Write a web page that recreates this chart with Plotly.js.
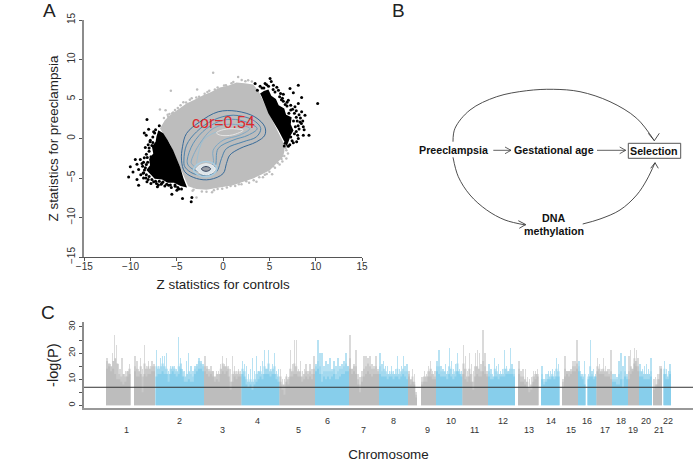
<!DOCTYPE html>
<html><head><meta charset="utf-8">
<script src="https://cdn.plot.ly/plotly-3.0.1.min.js"></script>
<style>html,body{margin:0;padding:0;background:#fff}#c{width:700px;height:467px}</style>
</head><body><div id="c"></div>
<script>
// ---------- Panel A: Z statistics ----------
const greyMassX=[-6.83,-6.3,-5.76,-5.1,-3.96,-3.1,-2.16,-1.3,-0.36,0.6,1.44,2.3,3.24,3.78,5.04,6.65,6.6,6.47,5.7,5.04,4.1,3.24,2.1,1.08,-0.4,-1.8,-2.9,-3.78,-4.68,-5.76];
const greyMassY=[1.27,2.3,2.95,3.5,4.43,4.9,5.49,5.9,6.46,6.7,7.1,7.0,6.85,6.12,2.95,-0.84,-1.7,-2.32,-3.2,-4.01,-4.6,-5.06,-5.5,-5.91,-6.2,-6.5,-6.4,-6.03,-3.59,-0.63];
const greyDotsX=[-1.08,-5.65,-2.81,-6.83,-6.22,-5.94,1.62,2.7,6.83,6.83,5.29,3.6,1.98,-1.8,-2.88,-3.3,-5.5,-5.2,-4.6,-4.3,-3.4,-2.6,-1.7,-0.9,0.1,0.9,2.0,3.1,3.5,6.9,7.0,6.4,6.1,5.6,4.7,4.3,2.8,1.3,0.4,-0.6,-1.2,-2.3,-3.2,-6.4,-5.8,-6.0,-5.4,-4.9,-4.0,-3.6,-2.9,-2.0,-1.5,-0.6,0.3,1.1,2.4,6.75,6.6,6.3,5.9,5.4,5.0,4.5,3.9,3.3,2.5,1.7,0.8,-0.1,-1.0];
const greyDotsY=[8.31,6.03,6.2,3.67,3.59,2.74,7.8,7.38,-1.48,-2.53,-4.51,-5.49,-5.78,-6.75,-7.47,-6.6,3.2,3.6,4.2,4.6,5.1,5.3,5.9,6.2,6.7,7.0,7.4,7.2,6.9,-0.9,-1.9,-2.9,-3.3,-3.7,-4.5,-4.9,-5.6,-6.0,-6.2,-6.4,-6.8,-6.7,-6.5,2.6,3.1,3.0,3.3,3.85,4.55,4.9,5.2,5.65,6.05,6.45,6.75,7.15,7.25,-1.2,-2.2,-2.6,-3.1,-3.5,-4.2,-4.6,-4.9,-5.3,-5.4,-5.8,-6.0,-6.35,-6.55];
const blackLeftX=[-7.0,-7.2,-7.3,-7.7,-7.55,-8.0,-7.9,-8.3,-7.8,-7.4,-6.6,-6.0,-5.3,-4.6,-3.9,-4.3,-4.64,-5.4,-6.0,-6.47];
const blackLeftY=[1.05,0.3,-0.4,-1.0,-1.9,-2.6,-3.4,-4.0,-4.6,-5.1,-5.2,-5.6,-5.6,-6.0,-6.2,-5.0,-3.63,-1.48,-0.2,0.67];
const blackRightX=[3.99,4.4,4.89,5.2,5.7,6.0,6.6,6.8,7.4,7.3,7.6,7.3,7.1,6.87,5.97,4.89,4.17];
const blackRightY=[5.7,6.0,6.2,5.4,5.0,4.2,3.8,3.0,2.7,1.8,1.0,0.4,-0.3,-0.97,1.06,3.16,5.27];
const blackDotsX=[-8.23,-8.05,-8.52,-8.31,-7.51,-7.87,-8.41,-9.49,-8.95,-8.52,-9.31,-8.77,-10.03,-9.13,-9.74,-10.21,-8.59,-9.31,-9.13,-8.23,-7.51,-6.61,-5.89,-5.18,-5.0,-5.54,-4.39,-3.38,-3.45,-8.1,-8.0,-8.3,-8.7,-8.5,-8.9,-8.6,-8.1,-7.8,-7.0,-6.3,-5.6,-7.6,-7.3,-7.7,-8.15,-7.1,-6.9,-4.8,-7.4,-7.6,-7.9,-8.0,-7.8,-8.2,-8.3,-8.6,-8.4,-8.65,-8.3,-8.0,-8.35,-7.7,-7.3,-6.9,-6.5,-6.1,-5.7,-5.2,-4.9,-4.5,-7.2,-6.7,3.45,5.07,4.53,5.43,3.99,5.97,6.5,7.22,8.12,7.58,8.48,7.04,8.12,7.76,8.48,8.84,8.3,8.66,9.27,10.21,8.66,8.12,7.58,7.04,7.94,6.4,6.9,7.3,7.5,7.9,8.2,8.35,8.6,8.1,7.9,7.3,6.7,4.2,3.7,4.7,5.2,5.8,6.2,8.75,8.45,5.6,6.1,6.5,6.9,7.3,7.7,7.9,8.0,7.8,8.2,7.7,7.45,7.2,6.6,5.4,4.9,4.4,6.3,6.7,7.1,7.6,8.05];
const blackDotsY=[2.40,1.17,0.71,0.42,0.84,-0.22,-1.15,-2.66,-2.66,-2.45,-3.26,-3.17,-3.59,-3.93,-4.23,-4.86,-4.35,-5.2,-5.91,-5.49,-5.49,-5.62,-5.91,-6.04,-6.55,-7.05,-7.6,-7.47,-8.02,-0.8,-1.6,-2.0,-3.5,-4.0,-4.6,-5.0,-5.2,-5.7,-5.9,-6.0,-6.2,0.2,1.1,-0.9,-3.0,-6.1,1.6,-6.4,0.7,-0.5,-0.4,-1.2,-2.3,-2.4,-3.3,-3.0,-3.7,-4.4,-4.6,-4.8,-5.0,-5.2,-5.4,-5.4,-5.5,-5.8,-5.9,-5.9,-6.2,-6.4,-5.7,-5.8,6.96,7.6,6.96,6.75,6.62,6.12,5.61,6.33,6.75,5.78,5.19,4.85,4.43,4.01,3.38,2.95,2.1,1.48,0.42,4.43,0.42,0,-0.55,-0.97,-0.42,5.1,4.6,4.2,3.7,3.5,3.0,2.6,2.2,1.6,0.9,0.2,-0.6,6.4,6.1,6.8,7.2,6.5,5.7,1.1,1.9,5.9,5.3,4.7,4.1,3.6,3.2,2.7,2.2,1.5,1.2,0.6,-0.3,-0.8,-0.95,6.2,6.6,6.4,4.9,4.3,3.2,2.2,0.4];
const contour1X=[-4.5,-4.39,-3.96,-2.52,-0.54,1.44,3.42,4.5,4.5,3.6,1.8,0.72,0.36,0,-1.44,-2.88,-4.14,-4.5];
const contour1Y=[-2.74,-1.05,0.63,2.11,3.38,3.46,2.74,1.48,0.42,-0.42,-1.27,-2.11,-3.16,-4.43,-5.19,-5.06,-4.22,-2.74];
const contour2X=[-4.24,-3.96,-2.88,-1.08,1.08,3.24,4.06,3.6,2.16,0.36,-0.18,-0.72,-1.8,-3.24,-4.14,-4.24];
const contour2Y=[-2.74,-0.84,0.84,2.32,2.95,2.32,1.27,0.21,-0.42,-1.27,-2.53,-4.22,-4.64,-4.43,-3.59,-2.74];
const contour3X=[-3.88,-3.24,-1.8,0,1.8,3.67,2.7,1.08,-0.54,-0.9,-1.8,-3.06,-3.78,-3.88];
const contour3Y=[-2.74,-0.63,1.27,2.32,2.32,1.27,0.42,-0.21,-1.27,-3.59,-4.22,-4.01,-3.38,-2.74];
const contour4X=[-3.42,-2.52,-1.08,0.72,2.88,1.8,0,-1.08,-1.08,-1.8,-2.88,-3.42,-3.42];
const contour4Y=[-2.74,-0.63,1.27,1.81,1.27,0.42,-0.21,-1.48,-3.16,-3.8,-3.67,-3.16,-2.74];
const contour5X=[-2.88,-2.16,-0.72];
const contour5Y=[-3.16,-0.21,0.84];
const ringAX=[-3.2,-2.7,-1.85,-1.0,-0.7,-1.0,-1.85,-2.7,-3.2];
const ringAY=[-4.0,-3.2,-2.9,-3.2,-3.8,-4.5,-4.85,-4.6,-4.0];
const ringBX=[-2.9,-2.5,-1.85,-1.2,-0.85,-1.2,-1.85,-2.5,-2.9];
const ringBY=[-3.85,-3.4,-3.2,-3.4,-3.85,-4.35,-4.6,-4.35,-3.85];
const coreX=[-2.35,-2.15,-1.85,-1.55,-1.35,-1.55,-1.85,-2.15,-2.35];
const coreY=[-3.85,-3.63,-3.55,-3.63,-3.85,-4.07,-4.15,-4.07,-3.85];
const peakTopX=[-0.72,0.36,2.16,1.0,-0.3,-0.72];
const peakTopY=[0.72,1.2,1.05,0.45,0.42,0.72];
const zTicks=[-15,-10,-5,0,5,10,15];

// ---------- Panel B: diagram (page pixels) ----------
const arcTopX=[453,455,470,496.7,526.7,553.3,580,610,636.7,654.3];
const arcTopY=[141.7,128.3,110,96.7,90.7,89.3,91.7,101.7,118.3,140.7];
const headTopX=[648.3,654.3,659.3];
const headTopY=[133.3,140.7,133.3];
const arcLowLX=[453,458.3,470,486.7,505,525.7];
const arcLowLY=[157.3,176.7,195,210,220,225];
const headLowLX=[518.3,525.7,519.3];
const headLowLY=[220.7,224.5,228.3];
const arcLowRX=[582.7,600,620,636.7,646.7,655];
const arcLowRY=[224,219,210,195,180,162.7];
const headLowRX=[650.7,655,658.3];
const headLowRY=[168.3,162.7,168.3];
const arrow1X=[493.3,511];
const arrow1Y=[150.3,150.3];
const head1X=[505,511,505];
const head1Y=[147,150.3,153.7];
const arrow2X=[597,625.7];
const arrow2Y=[150.3,150.3];
const head2X=[619.7,625.7,619.7];
const head2Y=[147,150.3,153.7];
const nodeLabels=["Preeclampsia","Gestational age","Selection","DNA","methylation"];
const nodeX=[454,553.7,654.3,553.7,553.7];
const nodeY=[149.7,150,151,217.7,231];

// ---------- Panel C: Manhattan ----------
const segStart=[22,50,71.5,120,157.5,195.5,231,265,295,324,337,352,378.5,404,434,457,478,494,503.5,512.5,528,544,555,569,579.5];
const segEnd=[46.5,71,120,157.5,195.5,231,265,295,324,333,352,378.5,404,431,454.5,475.5,494,501.5,512.5,528,544,555,568,578,587];
const segIsBlue=[0,0,1,0,1,0,1,0,1,0,0,1,0,1,0,1,0,1,1,0,1,0,1,0,1];
const segPeaks=[
[18,13,16,20,27,23,16,14,18,12,13,13,16],
[19,17,14,18,14,23,15,17,15,17,16],
[21,15,18,19,19,20,13,15,14,15,14,26,18,14,13,17,20,15,13,15,16,18,17,16],
[19,15,14,15,13,11,13,13,16,19,16,18,15,14,19,15,13,14,13],
[17,16,15,12,14,18,13,19,13,15,17,21,14,21,14,16,20,13,14],
[14,10,10,12,11,21,16,25,25,14,17,13,14,16,13,16,14,19],
[16,25,20,20,15,17,16,18,14,17,15,18,15,16,17,20,15],
[27,14,16,21,12,11,13,19,19,18,19,16,15,19,14],
[20,16,17,15,15,13,15,13,14,19,14,15,19,15,16],
[13,9,14,12,5],
[11,13,12,15,17,13,13],
[17,21,15,14,16,13,22,17,14,16,20,14,13],
[23,19,13,20,16,13,20,21,20,16,29,20,13],
[16,14,12,18,15,16,13,14,21,15,13,22,16,14],
[17,13,14,14,11,10,11,13,13,14],
[15,10,12,13,13,14,13,18,16],
[10,19,13,13,14,17,17,25],
[17,13,12,17],
[12,25,13,14,12],
[18,16,14,18,15,14,14,21],
[12,12,11,17,20,15,19,12],
[19,21,14,22,21,18],
[16,14,15,16,14,18],
[10,11,12,15,15],
[17,14,13,16]];
const segMid=[
[17,16,15,17,18,16,12,11,12,11,13,14],
[15,14,13,15,11,16,14,15,14,15,15],
[15,14,15,16,15,14,12,14,15,14,13,15,16,13,11,12,13,12,11,14,15,17,16,15],
[15,14,13,13,13,11,12,12,14,16,15,15,14,9,12,13,12,13,12],
[14,13,10,9,10,9,10,12,13,13,12,15,14,16,13,14,15,12,11],
[11,8,8,11,10,14,13,16,15,13,13,11,12,13,12,13,12,14],
[15,17,15,12,13,13,13,13,13,14,12,13,14,14,15,16,15],
[18,14,15,15,10,8,11,14,15,16,15,14,14,15,13],
[15,13,14,13,12,12,13,12,12,14,12,13,14,13,13],
[12,10,11,9,4],
[9,11,11,13,14,12,11],
[15,15,13,13,13,12,15,14,12,13,16,13,12],
[16,14,11,14,12,9,15,15,14,13,17,15,12],
[13,12,11,14,13,12,12,12,14,14,13,14,14,12],
[14,11,11,10,9,7,8,11,12,12],
[12,9,10,12,11,12,11,14,13],
[9,14,13,13,13,15,15,16],
[15,12,11,12],
[11,15,12,11,11],
[15,14,13,14,13,13,12,13],
[10,10,10,12,13,10,13,11],
[13,15,14,18,17,15],
[13,13,12,12,12,13],
[7,8,10,12,14],
[14,12,11,13]];
const segBody=[
[14,15,13,14,12,10,10,9,8,9,11,12],
[13,11,11,12,5,12,11,12,12,13,13],
[11,12,12,13,12,12,9,12,13,12,11,12,14,11,9,9,10,9,9,12,13,14,14,13],
[13,12,11,12,11,9,10,9,12,13,12,13,11,6,9,11,10,11,11],
[12,11,8,7,8,6,8,9,10,11,10,12,12,12,11,12,12,10,9],
[9,6,4,9,8,11,11,12,12,11,11,9,10,11,10,11,10,12],
[13,14,12,9,11,10,11,10,11,12,10,10,11,12,12,13,13],
[14,12,13,12,8,5,9,11,12,13,12,11,12,12,12],
[12,11,11,11,10,11,11,10,11,11,10,11,12,11,10],
[11,8,9,8,3],
[8,9,9,11,11,10,10],
[13,12,11,11,11,10,12,11,10,11,13,12,11],
[12,10,9,11,9,6,11,12,11,11,13,12,11],
[11,10,10,11,11,10,11,11,11,12,12,12,12,11],
[12,9,9,8,7,5,6,9,10,11],
[10,8,9,10,10,11,10,11,11],
[7,11,12,11,12,13,13,14],
[13,11,10,8],
[10,11,11,10,11],
[13,12,12,12,11,11,11,10],
[9,9,8,8,10,7,11,10],
[10,12,13,16,15,13],
[11,11,10,10,10,11],
[6,7,8,10,14],
[12,10,10,12]];
const threshold=6.9;
const chrLabels=["1","2","3","4","5","6","7","8","9","10","11","12","13","14","15","16","17","18","19","20","21","22"];
const chrLabelPos=[42,95,138,173,214,243,279,309,343,367,390,419,445,467,487,503,521,537,549,562,575,584];
const chrRowLow=430, chrRowHigh=420.7;
const logTicks=[0,5,10,15,20,25,30];
const logTickText=["0","","10","","20","","30"];

// ---------- Colours ----------
const GREY="#bdbdbd", BLUE="#87ceeb", GREY_LT="#dadada", BLUE_LT="#b8e2f3", GREY_MID="#c9c9c9", BLUE_MID="#a3d9ef";
const FONT="Liberation Sans";

const traces=[];
function fillT(x,y,c){traces.push({type:"scatter",x,y,mode:"lines",fill:"toself",fillcolor:c,line:{width:0,color:c},xaxis:"x",yaxis:"y"});}
function dots(x,y,c,s){traces.push({type:"scatter",x,y,mode:"markers",marker:{color:c,size:s,line:{width:0}},xaxis:"x",yaxis:"y"});}
function curve(x,y,c,w){traces.push({type:"scatter",x,y,mode:"lines",line:{color:c,width:w,shape:"spline",smoothing:1},xaxis:"x",yaxis:"y"});}
fillT(greyMassX,greyMassY,GREY);
dots(greyDotsX,greyDotsY,GREY,2.5);
fillT(blackLeftX,blackLeftY,"#000");
fillT(blackRightX,blackRightY,"#000");
dots(blackDotsX,blackDotsY,"#000",3);
curve(contour5X,contour5Y,"#9cbfd2",1);
curve(contour4X,contour4Y,"#7fa9c6",1);
curve(contour3X,contour3Y,"#5e93b8",1);
curve(contour2X,contour2Y,"#4a80aa",1);
curve(contour1X,contour1Y,"#376a98",1);
curve(ringAX,ringAY,"#a8cce0",1.5);
traces.push({type:"scatter",x:ringBX,y:ringBY,mode:"lines",fill:"toself",fillcolor:"#dde5ea",line:{color:"#eef0f2",width:1,shape:"spline"},xaxis:"x",yaxis:"y"});
traces.push({type:"scatter",x:coreX,y:coreY,mode:"lines",fill:"toself",fillcolor:"#9a9fa8",line:{color:"#33425c",width:1,shape:"spline"},xaxis:"x",yaxis:"y"});
curve(peakTopX,peakTopY,"#e6e6e6",1);

// Panel B curves
function diag(x,y,smooth,w){traces.push({type:"scatter",x,y,mode:"lines",line:{color:"#3a3a3a",width:w,shape:smooth?"spline":"linear"},xaxis:"x4",yaxis:"y4"});}
diag(arcTopX,arcTopY,true,0.9);diag(headTopX,headTopY,false,0.9);
diag(arcLowLX,arcLowLY,true,0.9);diag(headLowLX,headLowLY,false,0.9);
diag(arcLowRX,arcLowRY,true,0.9);diag(headLowRX,headLowRY,false,0.9);
diag(arrow1X,arrow1Y,false,0.8);diag(head1X,head1Y,false,0.8);
diag(arrow2X,arrow2Y,false,0.8);diag(head2X,head2Y,false,0.8);

// Panel C: spikes as thin bars, profiles as stepped fills
const pk={0:{x:[],y:[]},1:{x:[],y:[]}};
segStart.forEach((s,i)=>{
  const w=segEnd[i]-s, b=segIsBlue[i];
  segPeaks[i].forEach((v,j)=>{pk[b].x.push(s+(j+.5)*w/segPeaks[i].length);pk[b].y.push(v);});
});
[0,1].forEach(b=>traces.push({type:"bar",x:pk[b].x,y:pk[b].y,width:1.3,marker:{color:b?BLUE_LT:GREY_LT,line:{width:0}},xaxis:"x3",yaxis:"y3"}));
function profile(arr,i,c){
  const s=segStart[i], st=(segEnd[i]-s)/arr.length;
  const x=arr.map((v,j)=>s+j*st).concat([segEnd[i]]);
  const y=arr.concat([arr[arr.length-1]]);
  traces.push({type:"scatter",x,y,mode:"lines",fill:"tozeroy",fillcolor:c,line:{width:0,color:c,shape:"hv"},xaxis:"x3",yaxis:"y3"});
}
segStart.forEach((s,i)=>{const b=segIsBlue[i];profile(segMid[i],i,b?BLUE_MID:GREY_MID);});
segStart.forEach((s,i)=>{const b=segIsBlue[i];profile(segBody[i],i,b?BLUE:GREY);});
traces.push({type:"scatter",x:[0,609],y:[threshold,threshold],mode:"lines",line:{color:"#333",width:1},xaxis:"x3",yaxis:"y3"});

const ann=[];
[["A",49,10],["B",398,10],["C",48,312]].forEach(a=>ann.push({text:a[0],xref:"paper",yref:"paper",x:a[1]/700,y:1-a[2]/467,showarrow:false,xanchor:"center",yanchor:"middle",font:{family:FONT,size:19,color:"#222"}}));
ann.push({text:"cor=0.54",xref:"x",yref:"y",x:0,y:2.0,showarrow:false,font:{family:FONT,size:16,color:"#dc2a2e"}});
nodeLabels.forEach((t,i)=>ann.push({text:"<b>"+t+"</b>",xref:"x4",yref:"y4",x:nodeX[i],y:nodeY[i],showarrow:false,font:{family:FONT,size:10.7,color:"#111"}}));
chrLabels.forEach((t,i)=>ann.push({text:t,xref:"x3",yref:"paper",x:chrLabelPos[i],y:1-(i%2?chrRowHigh:chrRowLow)/467,yanchor:"middle",showarrow:false,font:{family:FONT,size:9,color:"#333"}}));

const tick={family:FONT,size:10,color:"#333"};
const layout={
  width:700,height:467,margin:{l:0,r:0,t:0,b:0},paper_bgcolor:"#fff",plot_bgcolor:"rgba(0,0,0,0)",showlegend:false,hovermode:false,barmode:"overlay",bargap:0,
  xaxis:{domain:[84.3/700,362/700],range:[-15,15],tickvals:zTicks,showgrid:false,zeroline:false,showline:true,linecolor:"#555",linewidth:1,ticks:"outside",ticklen:3,tickcolor:"#555",tickfont:tick,ticklabelstandoff:-3,anchor:"y",
    title:{text:"Z statistics for controls",font:{family:FONT,size:13.4,color:"#222"},standoff:8}},
  yaxis:{domain:[210/467,447/467],range:[-15,15],tickvals:zTicks,tickangle:-90,showgrid:false,zeroline:false,showline:true,linecolor:"#8c8c8c",linewidth:2,ticks:"outside",ticklen:3,tickcolor:"#555",tickfont:tick,anchor:"x",
    title:{text:"Z statistics for preeclampsia",font:{family:FONT,size:13.4,color:"#222"},standoff:5}},
  xaxis3:{domain:[84/700,693/700],range:[0,609],showgrid:false,zeroline:false,showline:true,linecolor:"#999",linewidth:2,ticks:"",showticklabels:false,anchor:"y3",
    title:{text:"Chromosome",font:{family:FONT,size:13.4,color:"#222"},standoff:40}},
  yaxis3:{domain:[58.7/467,145/467],range:[-1.15,31.9],tickvals:logTicks,ticktext:logTickText,tickangle:-90,showgrid:false,zeroline:false,showline:true,linecolor:"#8c8c8c",linewidth:2,ticks:"outside",ticklen:3,tickcolor:"#555",tickfont:{family:FONT,size:9,color:"#333"},anchor:"x3",
    title:{text:"-log(P)",font:{family:FONT,size:14.5,color:"#222"},standoff:5}},
  xaxis4:{domain:[0,1],range:[0,700],visible:false,anchor:"y4"},
  yaxis4:{domain:[0,1],range:[467,0],visible:false,anchor:"x4"},
  shapes:[{type:"rect",xref:"x4",yref:"y4",x0:628.3,x1:680.7,y0:143.3,y1:158.3,line:{color:"#555",width:1},fillcolor:"rgba(0,0,0,0)"}],
  annotations:ann
};
Plotly.newPlot("c",traces,layout,{displayModeBar:false,staticPlot:true});
</script></body></html>
